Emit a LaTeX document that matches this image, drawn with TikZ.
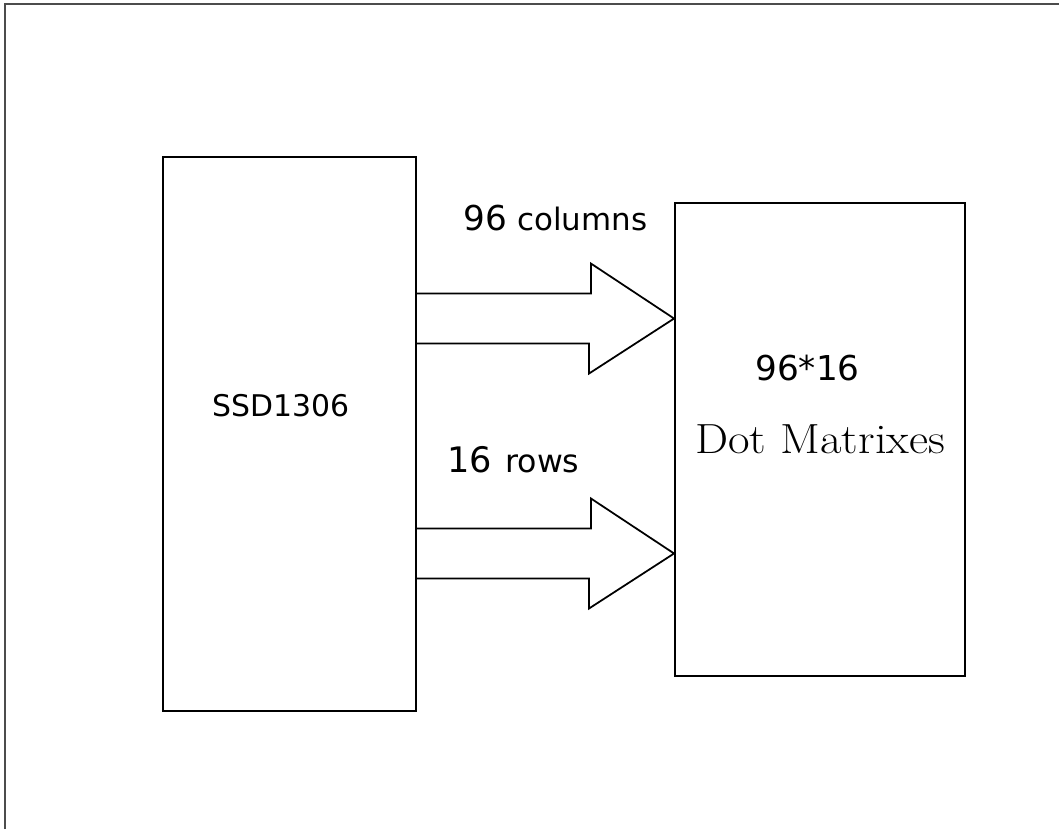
\documentclass[tikz,border=0pt]{standalone}
\usepackage{fontspec}
\usepackage{graphicx}
\usepackage{tikz}
\newfontfamily\labelfont{DejaVu Sans}
\usetikzlibrary{positioning}

\begin{document}
\begin{tikzpicture}[x=0.02cm, y=-0.02cm,
		box/.style={draw, line width=1.1pt, inner sep=0pt},
		blockarrow/.style={draw, line width=1pt, line join=miter},
		txt/.style={inner sep=0pt, anchor=base west},
		bigsans/.style={font=\labelfont\fontsize{19.5}{22}\selectfont},
		smallsans/.style={font=\labelfont\fontsize{17}{20}\selectfont}]
		\useasboundingbox (0,0) rectangle (1059,829);
		
		% Frame
		\draw[black!70, line width=1.6pt] (5,829) -- (5,4) -- (1059,4);
		
		% Blocks
		\node[box, minimum width=5.06cm, minimum height=11.08cm] (ssd) at (289.5,434) {};
		\node[box, minimum width=5.8cm, minimum height=9.46cm] (dm) at (820,439.5) {};
		
		% Arrow tips
		\coordinate (coltip) at ([yshift=2.42cm]dm.west);
		\coordinate (rowtip) at ([yshift=-2.28cm]dm.west);
		
		% Block arrows
		\foreach \tip in {coltip, rowtip}
			\draw[blockarrow] (ssd.east |- \tip) ++(0,-25) -- ++(174,0) -- ++(0,-30) -- (\tip)
				-- ++(-85,55) -- ++(0,-30) -- ++(-174,0);
		
		% Labels
		\node[txt, smallsans] (ssdname) at (212,416) {SSD1306};
		\node[txt, bigsans] (colnum) at (463,230) {96};
		\node[txt, font=\labelfont\fontsize{17.6}{20}\selectfont] (coltext) at (517,230) {columns};
		\node[txt, font=\labelfont\fontsize{20}{22}\selectfont] (rownum) at (447,472) {16};
		\node[txt, font=\labelfont\fontsize{18}{20}\selectfont] (rowtext) at (505,472) {rows};
		\node[txt, bigsans] (dmsize) at (755,380) {96*16};
		\node[txt, font=\fontsize{24}{26}\selectfont] (dmname) at (695,453) {\scalebox{1.11}[1]{Dot Matrixes}};
	\end{tikzpicture}
\end{document}
